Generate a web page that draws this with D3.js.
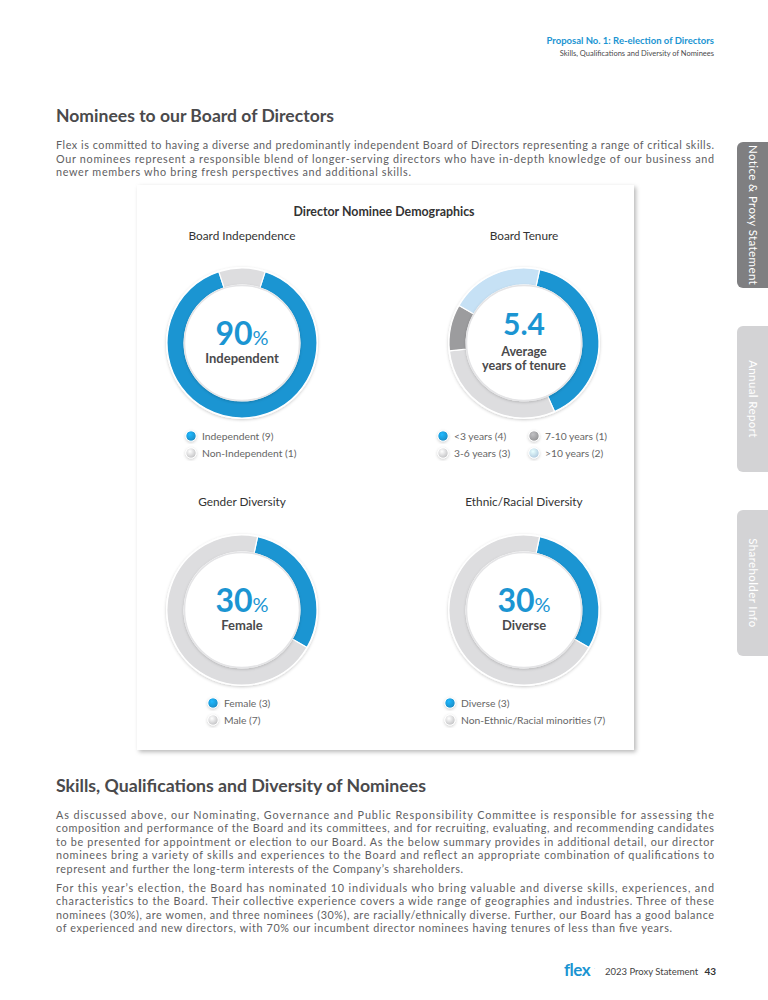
<!DOCTYPE html>
<html>
<head>
<meta charset="utf-8">
<script src="https://cdn.jsdelivr.net/npm/d3@7"></script>
<style>
	body { margin: 0; background: #fff; }
	svg { display: block; font-family: Lato, "DejaVu Sans", sans-serif; }
</style>
</head>
<body>
<div id="page"></div>
<script>
// data
const indLabels = ["Independent", "Non-Independent"];
const indValues = [9, 1];
const tenureLabels = ["<3 years", "3-6 years", "7-10 years", ">10 years"];
const tenureValues = [4, 3, 1, 2];
const avgTenure = 5.4;
const genderLabels = ["Female", "Male"];
const genderValues = [3, 7];
const ethnicLabels = ["Diverse", "Non-Ethnic/Racial minorities"];
const ethnicValues = [3, 7];

const introLines = [
	"Flex is committed to having a diverse and predominantly independent Board of Directors representing a range of critical skills.",
	"Our nominees represent a responsible blend of longer-serving directors who have in-depth knowledge of our business and",
	"newer members who bring fresh perspectives and additional skills.",
];
const skillsLines1 = [
	"As discussed above, our Nominating, Governance and Public Responsibility Committee is responsible for assessing the",
	"composition and performance of the Board and its committees, and for recruiting, evaluating, and recommending candidates",
	"to be presented for appointment or election to our Board. As the below summary provides in additional detail, our director",
	"nominees bring a variety of skills and experiences to the Board and reflect an appropriate combination of qualifications to",
	"represent and further the long-term interests of the Company\u2019s shareholders.",
];
const skillsLines2 = [
	"For this year\u2019s election, the Board has nominated 10 individuals who bring valuable and diverse skills, experiences, and",
	"characteristics to the Board. Their collective experience covers a wide range of geographies and industries. Three of these",
	"nominees (30%), are women, and three nominees (30%), are racially/ethnically diverse. Further, our Board has a good balance",
	"of experienced and new directors, with 70% our incumbent director nominees having tenures of less than five years.",
];
const tabLabels = ["Notice & Proxy Statement", "Annual Report", "Shareholder Info"];

const blue = "#1b95d2";
const lightGray = "#dddddf";
const darkGray = "#9c9c9e";
const lightBlue = "#c6e1f5";
const textDark = "#4a4a4c";
const textBody = "#606062";

const width = 768;
const height = 1000;

const svg = d3
	.select("#page")
	.append("svg")
	.attr("viewBox", [0, 0, width, height])
	.attr("width", width)
	.attr("height", height);

const defs = svg.append("defs");

const cardShadow = defs.append("filter").attr("id", "cardShadow").attr("x", "-5%").attr("y", "-5%").attr("width", "110%").attr("height", "110%");
cardShadow.append("feDropShadow").attr("dx", 2).attr("dy", 2).attr("stdDeviation", 2).attr("flood-color", "#000").attr("flood-opacity", 0.28);

const ringShadow = defs.append("filter").attr("id", "ringShadow").attr("x", "-20%").attr("y", "-20%").attr("width", "140%").attr("height", "140%");
ringShadow.append("feDropShadow").attr("dx", 0).attr("dy", 1).attr("stdDeviation", 1.5).attr("flood-color", "#000").attr("flood-opacity", 0.2);

// little shaded legend dots
function dotGradient(id, color) {
	const g = defs.append("radialGradient").attr("id", id).attr("cx", "40%").attr("cy", "35%").attr("r", "70%");
	g.append("stop").attr("offset", "0%").attr("stop-color", d3.color(color).brighter(0.6));
	g.append("stop").attr("offset", "100%").attr("stop-color", d3.color(color).darker(0.25));
}
dotGradient("gBlue", blue);
dotGradient("gLight", "#d0d0d2");
dotGradient("gDark", darkGray);
dotGradient("gLightBlue", "#bcd9f0");
const dotFill = {};
dotFill[blue] = "url(#gBlue)";
dotFill[lightGray] = "url(#gLight)";
dotFill[darkGray] = "url(#gDark)";
dotFill[lightBlue] = "url(#gLightBlue)";

// ---------- page header ----------
svg.append("text").attr("x", 714).attr("y", 44).attr("text-anchor", "end")
	.attr("font-size", 9.5).attr("font-weight", 700).attr("fill", blue)
	.text("Proposal No. 1: Re-election of Directors");
svg.append("text").attr("x", 714).attr("y", 56).attr("text-anchor", "end")
	.attr("font-size", 7.5).attr("fill", textDark)
	.text("Skills, Qualifications and Diversity of Nominees");

// justified paragraph lines (last line keeps its own width)
function paragraph(lines, y0, lastWidth) {
	lines.forEach((line, i) => {
		svg.append("text")
			.attr("x", 56)
			.attr("y", y0 + i * 13.5)
			.attr("font-size", 10.8)
			.attr("fill", textBody)
			.attr("textLength", i === lines.length - 1 ? lastWidth : 658)
			.attr("lengthAdjust", "spacing")
			.text(line);
	});
}

svg.append("text").attr("x", 56).attr("y", 122).attr("font-size", 16.5).attr("font-weight", 700)
	.attr("fill", textDark).attr("textLength", 278).attr("lengthAdjust", "spacingAndGlyphs")
	.text("Nominees to our Board of Directors");
paragraph(introLines, 149, 355);

// ---------- side tabs ----------
const tabColors = ["#7f7f81", "#d3d3d5", "#d3d3d5"];
tabLabels.forEach((label, i) => {
	const y = 142 + i * 184;
	svg.append("rect").attr("x", 737).attr("y", y).attr("width", 50).attr("height", 146).attr("rx", 6).attr("fill", tabColors[i]);
	svg.append("text")
		.attr("transform", `translate(749,${y + 73}) rotate(90)`)
		.attr("text-anchor", "middle")
		.attr("font-size", 11.5)
		.attr("fill", "#fff")
		.attr("letter-spacing", 0.4)
		.text(label);
});

// ---------- chart card ----------
svg.append("rect").attr("x", 137).attr("y", 185).attr("width", 497).attr("height", 565)
	.attr("fill", "#fff").attr("filter", "url(#cardShadow)");

svg.append("text").attr("x", 384).attr("y", 216).attr("text-anchor", "middle")
	.attr("font-size", 12.4).attr("font-weight", 700).attr("fill", "#333")
	.text("Director Nominee Demographics");

const rOuter = 75;
const rInner = 58;
const arc = d3.arc().innerRadius(rInner).outerRadius(rOuter);

function donut(cfg) {
	const g = svg.append("g").attr("transform", `translate(${cfg.cx},${cfg.cy})`);

	svg.append("text").attr("x", cfg.cx).attr("y", cfg.titleY).attr("text-anchor", "middle")
		.attr("font-size", 11.8).attr("fill", "#333").text(cfg.title);

	g.append("circle").attr("r", rOuter + 1).attr("fill", "#fff").attr("filter", "url(#ringShadow)");

	const pie = d3.pie().sort(null)
		.startAngle(cfg.start * Math.PI / 180)
		.endAngle(cfg.start * Math.PI / 180 + 2 * Math.PI);

	g.selectAll("path.seg")
		.data(pie(cfg.values))
		.join("path")
		.attr("class", "seg")
		.attr("d", arc)
		.attr("fill", (d, i) => cfg.colors[i])
		.attr("stroke", "#fff")
		.attr("stroke-width", 1.2);

	g.append("circle").attr("r", rInner - 0.5).attr("fill", "#fff")
		.attr("stroke", "#e4e4e6").attr("stroke-width", 1.5).attr("filter", "url(#ringShadow)");

	// centre figure
	cfg.center(g);

	// legend
	const items = cfg.labels.map((l, i) => ({ label: `${l} (${cfg.values[i]})`, color: cfg.colors[i], i }));
	const leg = g.selectAll("g.leg")
		.data(items)
		.join("g")
		.attr("class", "leg")
		.attr("transform", d => {
			const col = Math.floor(d.i / 2);
			const row = cfg.columns ? d.i % 2 : d.i;
			return `translate(${cfg.legX + (cfg.columns ? col * cfg.colGap : 0)},${cfg.legY + row * 17})`;
		});
	leg.append("circle").attr("r", 5.2).attr("fill", d => dotFill[d.color])
		.attr("stroke", "#fff").attr("stroke-width", 1).attr("filter", "url(#ringShadow)");
	leg.append("text").attr("x", 11).attr("y", 3.6).attr("font-size", 10.3).attr("fill", "#666")
		.text(d => d.label);
}

function pctCenter(values, word) {
	const pct = Math.round(values[0] / d3.sum(values) * 100);
	return g => {
		const t = g.append("text").attr("y", 2).attr("text-anchor", "middle").attr("fill", blue);
		t.append("tspan").attr("font-size", 32).attr("font-weight", 700).text(pct);
		t.append("tspan").attr("font-size", 20).text("%");
		g.append("text").attr("y", 20).attr("text-anchor", "middle").attr("font-size", 13)
			.attr("font-weight", 700).attr("fill", textDark).text(word);
	};
}

donut({
	cx: 242, cy: 343, title: "Board Independence", titleY: 240, start: 18,
	values: indValues, labels: indLabels, colors: [blue, lightGray],
	legX: -51, legY: 93, columns: false,
	center: pctCenter(indValues, "Independent"),
});

donut({
	cx: 524, cy: 343, title: "Board Tenure", titleY: 240, start: 12,
	values: tenureValues, labels: tenureLabels, colors: [blue, lightGray, darkGray, lightBlue],
	legX: -81, legY: 93, columns: true, colGap: 91,
	center: g => {
		g.append("text").attr("y", -8).attr("text-anchor", "middle").attr("fill", blue)
			.attr("font-size", 30).attr("font-weight", 700).text(avgTenure.toFixed(1));
		g.append("text").attr("y", 12.5).attr("text-anchor", "middle").attr("font-size", 12.6)
			.attr("font-weight", 700).attr("fill", textDark).text("Average");
		g.append("text").attr("y", 26.5).attr("text-anchor", "middle").attr("font-size", 12.6)
			.attr("font-weight", 700).attr("fill", textDark).text("years of tenure");
	},
});

donut({
	cx: 242, cy: 610, title: "Gender Diversity", titleY: 506, start: 12,
	values: genderValues, labels: genderLabels, colors: [blue, lightGray],
	legX: -29, legY: 93, columns: false,
	center: pctCenter(genderValues, "Female"),
});

donut({
	cx: 524, cy: 610, title: "Ethnic/Racial Diversity", titleY: 506, start: 12,
	values: ethnicValues, labels: ethnicLabels, colors: [blue, lightGray],
	legX: -74, legY: 93, columns: false,
	center: pctCenter(ethnicValues, "Diverse"),
});

// ---------- second section ----------
svg.append("text").attr("x", 56).attr("y", 792).attr("font-size", 16.5).attr("font-weight", 700)
	.attr("fill", textDark).attr("textLength", 370).attr("lengthAdjust", "spacingAndGlyphs")
	.text("Skills, Qualifications and Diversity of Nominees");
paragraph(skillsLines1, 818.5, 407);
paragraph(skillsLines2, 891.5, 616);

// ---------- footer ----------
svg.append("text").attr("x", 564).attr("y", 976).attr("font-size", 17).attr("font-weight", 700)
	.attr("fill", blue).attr("letter-spacing", -0.5).text("flex");
svg.append("text").attr("x", 594).attr("y", 969).attr("font-size", 4).attr("fill", blue).text(".");
svg.append("text").attr("x", 605).attr("y", 975).attr("font-size", 9.5).attr("fill", "#444")
	.text("2023 Proxy Statement");
svg.append("text").attr("x", 716).attr("y", 975).attr("text-anchor", "end").attr("font-size", 10)
	.attr("font-weight", 700).attr("fill", "#333").text("43");
</script>
</body>
</html>
